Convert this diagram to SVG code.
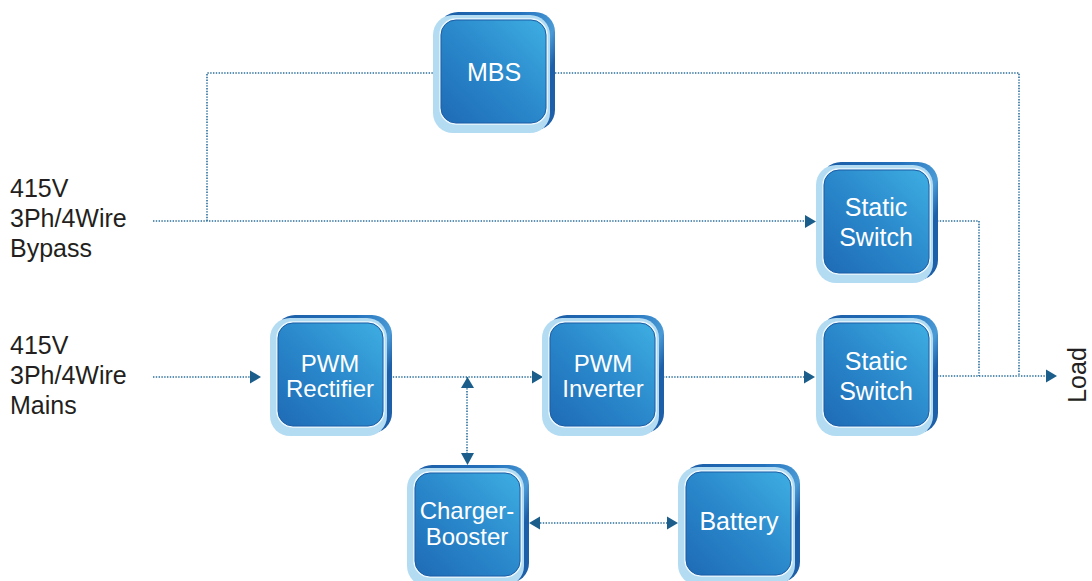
<svg xmlns="http://www.w3.org/2000/svg" xmlns:xlink="http://www.w3.org/1999/xlink" width="1092" height="581" viewBox="0 0 1092 581">
<style>
.lbl{font-family:"Liberation Sans",Arial,sans-serif;font-size:25px;fill:#231f20}
.nt{font-family:"Liberation Sans",Arial,sans-serif;font-size:25px;fill:#ffffff;text-anchor:middle}
.nt2{font-family:"Liberation Sans",Arial,sans-serif;font-size:24px;fill:#ffffff;text-anchor:middle}
.wire{fill:none;stroke:#2b6e9c;stroke-width:1.6;stroke-dasharray:1.4 1.4}
.ah{fill:#1b5e8b}
</style>
<defs>
<linearGradient id="gInner" x1="0" y1="1" x2="1" y2="0">
<stop offset="0" stop-color="#1e6bb5"/>
<stop offset="0.5" stop-color="#2a88cb"/>
<stop offset="1" stop-color="#3eaee2"/>
</linearGradient>
<linearGradient id="gShadow" x1="0" y1="0" x2="1" y2="0.4">
<stop offset="0" stop-color="#1b5ca5"/>
<stop offset="0.6" stop-color="#2472bd"/>
<stop offset="0.9" stop-color="#4a9ad6"/>
<stop offset="1" stop-color="#1d5fa8"/>
</linearGradient>
<g id="box">
<rect x="5" y="-3" width="117" height="118" rx="20" fill="url(#gShadow)"/>
<rect x="0" y="0" width="117" height="118" rx="20" fill="#b3dcf3"/>
<rect x="7" y="4" width="107" height="105" rx="16" fill="none" stroke="#eef8fe" stroke-width="1.5"/>
<rect x="8" y="5" width="105" height="103" rx="15" fill="url(#gInner)" stroke="#1d5ea6" stroke-width="1"/>
</g>
</defs>

<g id="labels">
<text class="lbl" x="10" y="197">415V</text>
<text class="lbl" x="10" y="227">3Ph/4Wire</text>
<text class="lbl" x="10" y="257">Bypass</text>
<text class="lbl" x="10" y="354">415V</text>
<text class="lbl" x="10" y="384">3Ph/4Wire</text>
<text class="lbl" x="10" y="414">Mains</text>
<text class="lbl" transform="translate(1086,375) rotate(-90)" text-anchor="middle">Load</text>
</g>

<g id="connectors">
<path class="wire" d="M153,221 H806"/>
<path class="wire" d="M207,221 V73 H433"/>
<path class="wire" d="M555,73 H1019 V376"/>
<path class="wire" d="M937,221 H979 V376"/>
<path class="wire" d="M153,377 H251"/>
<path class="wire" d="M390,377 H533"/>
<path class="wire" d="M467,377 V454"/>
<path class="wire" d="M663,377 H806"/>
<path class="wire" d="M937,376 H1047"/>
<path class="wire" d="M540,523 H668"/>
<polygon class="ah" points="805,215 816,221.5 805,228"/>
<polygon class="ah" points="250,370.5 261,377 250,383.5"/>
<polygon class="ah" points="532,370.5 543,377 532,383.5"/>
<polygon class="ah" points="804,370.5 815,377 804,383.5"/>
<polygon class="ah" points="1046,369.5 1057,376 1046,382.5"/>
<polygon class="ah" points="461,388 467.5,377 474,388"/>
<polygon class="ah" points="461,453 467.5,465 474,453"/>
<polygon class="ah" points="540,516.5 529,523 540,529.5"/>
<polygon class="ah" points="667,516.5 678,523 667,529.5"/>
</g>

<g id="node-mbs" transform="translate(433,15)">
<use href="#box"/>
<text class="nt" x="61" y="66">MBS</text>
</g>
<g id="node-static-switch-bypass" transform="translate(816,165)">
<use href="#box"/>
<text class="nt" x="60" y="51">Static</text>
<text class="nt" x="60" y="81">Switch</text>
</g>
<g id="node-pwm-rectifier" transform="translate(270,318)">
<use href="#box"/>
<text class="nt2" x="60" y="54">PWM</text>
<text class="nt2" x="60" y="79">Rectifier</text>
</g>
<g id="node-pwm-inverter" transform="translate(542,318)">
<use href="#box"/>
<text class="nt2" x="61" y="54">PWM</text>
<text class="nt2" x="61" y="79">Inverter</text>
</g>
<g id="node-static-switch-main" transform="translate(816,318)">
<use href="#box"/>
<text class="nt" x="60" y="52">Static</text>
<text class="nt" x="60" y="82">Switch</text>
</g>
<g id="node-charger-booster" transform="translate(407,468)">
<use href="#box"/>
<text class="nt2" x="60" y="51">Charger-</text>
<text class="nt2" x="60" y="77">Booster</text>
</g>
<g id="node-battery" transform="translate(678,467)">
<use href="#box"/>
<text class="nt" x="61" y="63">Battery</text>
</g>
</svg>
